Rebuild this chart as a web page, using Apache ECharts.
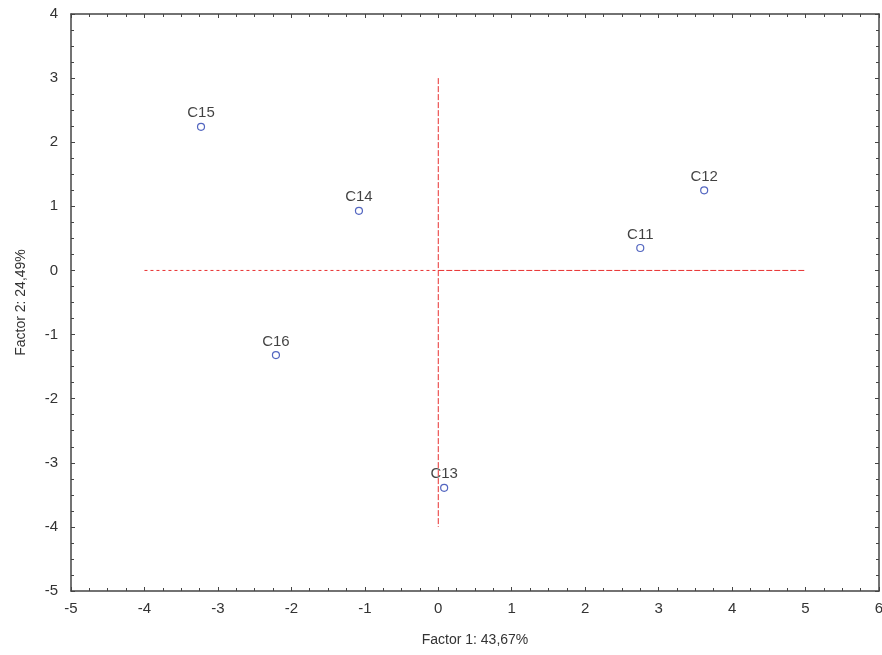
<!DOCTYPE html>
<html><head><meta charset="utf-8">
<script src="https://cdn.jsdelivr.net/npm/echarts@6/dist/echarts.min.js"></script>
<style>html,body{margin:0;padding:0;background:#fff}#c{width:882px;height:655px}</style>
</head><body><div id="c"></div>
<script>
const names = ['C11','C12','C13','C14','C15','C16'];
const factor1 = [2.75, 3.62, 0.08, -1.08, -3.23, -2.21];
const factor2 = [0.35, 1.25, -3.39, 0.93, 2.24, -1.32];
const xTicks = [-5,-4,-3,-2,-1,0,1,2,3,4,5,6];
const yTicks = [-5,-4,-3,-2,-1,0,1,2,3,4];
const hLineLeft = [[-4,0],[0,0]];
const hLineRight = [[0,0],[5,0]];
const vLine = [[0,3],[0,-4]];

const chart = echarts.init(document.getElementById('c'));
const font = 'Liberation Sans, Arial, sans-serif';
const axisCommon = {
  type:'value', interval:1, splitLine:{show:false},
  axisLine:{show:true,onZero:false,lineStyle:{color:'#444',width:1.5}},
  axisTick:{show:true,inside:true,length:4,lineStyle:{color:'#444'}},
  minorTick:{show:true,splitNumber:4,length:3,lineStyle:{color:'#444'}},
};
chart.setOption({
  animation:false,
  grid:{left:71,top:14,right:3,bottom:64,containLabel:false,outerBoundsMode:'none'},
  xAxis:[
    Object.assign({},axisCommon,{position:'bottom',min:-5,max:6,
      name:'Factor 1: 43,67%',nameLocation:'middle',nameGap:42,
      nameTextStyle:{fontFamily:font,fontSize:14,color:'#333'},
      axisLabel:{fontFamily:font,fontSize:15,color:'#333',margin:10}}),
    Object.assign({},axisCommon,{position:'top',min:-5,max:6,axisLabel:{show:false}})
  ],
  yAxis:[
    Object.assign({},axisCommon,{position:'left',min:-5,max:4,
      name:'Factor 2: 24,49%',nameLocation:'middle',nameGap:43,nameRotate:90,
      nameTextStyle:{fontFamily:font,fontSize:14,color:'#333'},
      axisLabel:{fontFamily:font,fontSize:15,color:'#333',margin:13}}),
    Object.assign({},axisCommon,{position:'right',min:-5,max:4,axisLabel:{show:false}})
  ],
  series:[
    {type:'line',data:hLineLeft,symbol:'none',silent:true,
      lineStyle:{color:'#e83030',width:1,type:[3,3]}},
    {type:'line',data:hLineRight,symbol:'none',silent:true,
      lineStyle:{color:'#e83030',width:1,type:[6,2]}},
    {type:'line',data:vLine,symbol:'none',silent:true,
      lineStyle:{color:'#e83030',width:1,type:[6,2]}},
    {type:'scatter',
      data:names.map((n,i)=>({name:n,value:[factor1[i],factor2[i]]})),
      symbol:'circle',symbolSize:7,
      itemStyle:{color:'#fff',borderColor:'#2840b0',borderWidth:1.2},
      label:{show:true,position:'top',distance:2,formatter:p=>p.name,
        fontFamily:font,fontSize:15,color:'#111'}}
  ]
});
</script></body></html>
